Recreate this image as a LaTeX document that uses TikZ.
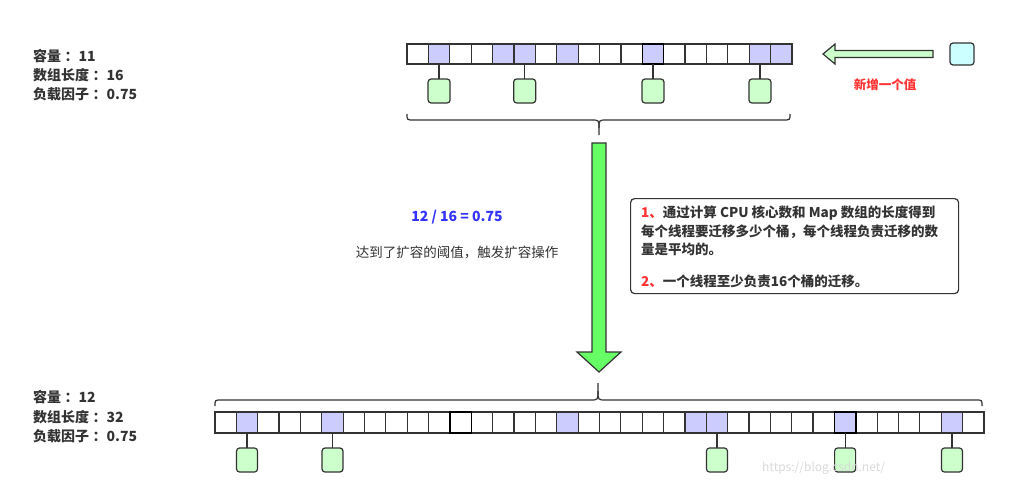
\documentclass[tikz,border=0pt]{standalone}
\usepackage{fontspec}
\setmainfont{Noto Sans CJK SC}
\definecolor{linec}{HTML}{333333}
\definecolor{txt}{HTML}{333333}
\definecolor{cellblue}{HTML}{CCCCFF}
\definecolor{gfill}{HTML}{CCFFCC}
\definecolor{cfill}{HTML}{CCFFFF}
\definecolor{bigg}{HTML}{66FF66}
\definecolor{redt}{HTML}{FF3333}
\definecolor{bluet}{HTML}{3333FF}
\newcommand{\cln}{\hspace{0.25em}：}
\begin{document}
\begin{tikzpicture}[x=1pt,y=-1pt,
  cellbox/.style={draw=linec, line width=1.2pt, minimum width=21.39pt, minimum height=20pt, inner sep=0pt, outer sep=0pt, fill=white},
  bcellbox/.style={cellbox, minimum width=21.36pt, minimum height=21pt},
  gbox/.style={draw=linec, line width=1.2pt, fill=gfill, rounded corners=3pt, minimum width=22pt, minimum height=24pt, inner sep=0pt, outer sep=0pt},
  conn/.style={draw=linec, line width=1.2pt},
  lbl/.style={anchor=base west, inner sep=0pt, text=txt, font=\fontsize{14}{16}\selectfont\bfseries},
  note/.style={anchor=base west, inner sep=0pt, text=txt, font=\fontsize{13.5}{16}\selectfont\bfseries},
  brace/.style={draw=linec, line width=1.2pt}
]
\useasboundingbox (0,0) rectangle (1012,480);

% ---------- left labels ----------
\node[lbl] (l1) at (33,61) {容量\cln 11};
\node[lbl] (l2) at (33,80) {数组长度\cln 16};
\node[lbl] (l3) at (33,99) {负载因子\cln 0.75};

\node[lbl] (b1) at (33,402) {容量\cln 12};
\node[lbl] (b2) at (33,422) {数组长度\cln 32};
\node[lbl] (b3) at (33,441) {负载因子\cln 0.75};

% ---------- top array (18 cells) ----------
\foreach \i/\c in {0/white,1/cellblue,2/white,3/white,4/cellblue,5/cellblue,6/white,7/cellblue,8/white,9/white,10/white,12/white,13/white,14/white,15/white,16/cellblue,17/cellblue}
  \node[cellbox, fill=\c] (t\i) at ({407+21.39*(\i+0.5)},54) {};
\node[cellbox, fill=cellblue, draw=black, line width=1.4pt] (t11) at ({407+21.39*11.5},54) {};

\foreach \i in {1,5,11,16}{
  \node[gbox] (tg\i) at ([yshift=-37pt]t\i.center) {};
  \draw[conn] (t\i.south) -- (tg\i.north);
}

% ---------- new value ----------
\node[draw=linec, line width=1.2pt, fill=cfill, rounded corners=3pt, minimum width=24pt, minimum height=22pt, inner sep=0pt] (newv) at (962,54) {};
\draw[draw=linec, line width=1.2pt, fill=gfill, line join=miter]
  (823,54) -- (835,44) -- (835,50.5) -- (933,50.5) -- (933,57.5) -- (835,57.5) -- (835,64) -- cycle;
\node[anchor=base, inner sep=0pt, text=redt, font=\fontsize{12.5}{15}\selectfont\bfseries] (newlbl) at (885,89) {新增一个值};

% ---------- top brace ----------
\draw[brace] (407,114) .. controls (407,120) .. (414,120) -- (591,120) .. controls (599,120) .. (599,128) -- (599,135);
\draw[brace] (599,128) .. controls (599,120) .. (607,120) -- (783,120) .. controls (790,120) .. (790,114);

% ---------- big arrow ----------
\draw[draw=linec, line width=1.2pt, fill=bigg, line join=miter]
  (592,143) -- (606,143) -- (606,352) -- (621,352) -- (599,372) -- (577,352) -- (592,352) -- cycle;

% ---------- middle texts ----------
\node[anchor=base, inner sep=0pt, text=bluet, font=\fontsize{14}{16}\selectfont\bfseries] (ratio) at (457,221) {12 / 16 = 0.75};
\node[anchor=base, inner sep=0pt, text=txt, font=\fontsize{13.5}{16}\selectfont] (reach) at (457,257) {达到了扩容的阈值，触发扩容操作};

% ---------- note box ----------
\node[draw=linec, line width=1.2pt, rounded corners=4pt, minimum width=328pt, minimum height=95pt, anchor=north west, inner sep=0pt] (notebox) at (630,198) {};
\node[note] (n1) at (641,217.5) {\textcolor{redt}{1、}通过计算 CPU 核心数和 Map 数组的长度得到};
\node[note] (n2) at (641,236) {每个线程要迁移多少个桶，每个线程负责迁移的数};
\node[note] (n3) at (641,254) {量是平均的。};
\node[note] (n4) at (641,286) {\textcolor{redt}{2、}一个线程至少负责16个桶的迁移。};

% ---------- bottom brace ----------
\draw[brace] (215,406) .. controls (215,400) .. (221,400) -- (590,400) .. controls (598,400) .. (598,391) -- (598,383);
\draw[brace] (598,391) .. controls (598,400) .. (606,400) -- (976,400) .. controls (982,400) .. (982,406);

% ---------- bottom array (36 cells) ----------
\foreach \i in {0,...,35}
  \node[bcellbox] (c\i) at ({215+21.36*(\i+0.5)},422.5) {};
\foreach \i in {1,5,16,22,23,34}
  \node[bcellbox, fill=cellblue] (c\i) at ({215+21.36*(\i+0.5)},422.5) {};
\node[bcellbox, draw=black, line width=1.4pt] (c11) at ({215+21.36*11.5},422.5) {};
\node[bcellbox, fill=cellblue, draw=black, line width=1.4pt] (c29) at ({215+21.36*29.5},422.5) {};

\foreach \i in {1,5,23,29,34}{
  \node[gbox, minimum width=21pt] (cg\i) at ([yshift=-37.5pt]c\i.center) {};
  \draw[conn] (c\i.south) -- (cg\i.north);
}

% ---------- watermark ----------
\node[anchor=base west, inner sep=0pt, text=black!15, font=\fontsize{12}{14}\selectfont] (wm) at (762,471) {https://blog.csdn.net/};
\end{tikzpicture}
\end{document}
